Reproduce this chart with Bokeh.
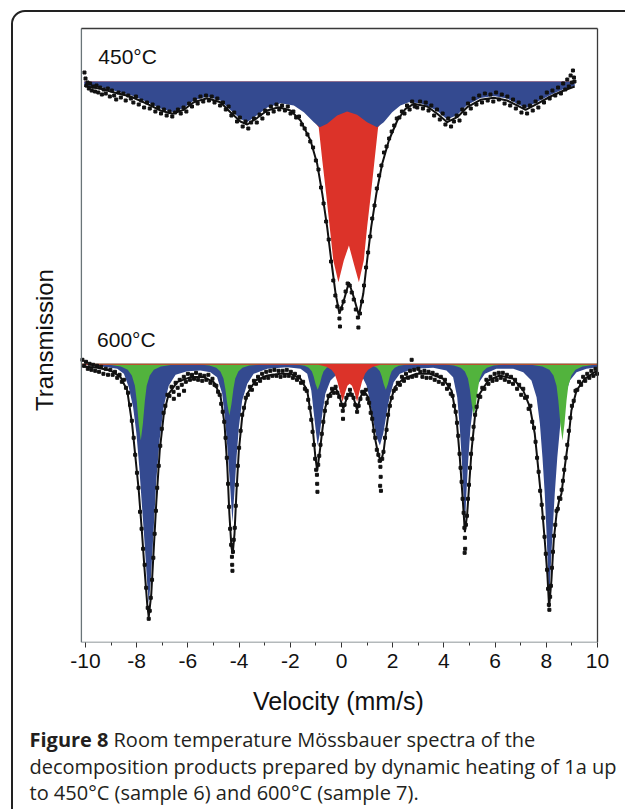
import math
from bokeh.plotting import figure
from bokeh.layouts import column
from bokeh.models import Range1d, FixedTicker, Label
from bokeh.embed import file_html
from bokeh.resources import INLINE

# ---------------- data (velocity mm/s, relative transmission %) ----------------
tick_values = [-10, -8, -6, -4, -2, 0, 2, 4, 6, 8, 10]
tick_labels = ["-10", "-8", "-6", "-4", "-2", "0", "2", "4", "6", "8", "10"]
minor_values = [-9, -7, -5, -3, -1, 1, 3, 5, 7, 9]
velocity_span = (-10.16, 10.0)

# 450 C spectrum (sample 6)
top_fit = [(-10.05, 99.55), (-9.41, 99.27), (-8.91, 98.93), (-8.24, 98.5), (-7.59, 97.77),
           (-7.07, 97.1), (-6.61, 96.77), (-6.16, 97.17), (-5.77, 97.93), (-5.25, 98.33),
           (-4.73, 97.93), (-4.34, 96.93), (-3.95, 96.0), (-3.68, 95.7), (-3.29, 96.37),
           (-2.90, 97.1), (-2.45, 97.43), (-1.99, 97.1), (-1.60, 96.1), (-1.21, 94.1),
           (-0.95, 91.77), (-0.75, 88.77), (-0.56, 85.43), (-0.40, 82.1), (-0.23, 78.77),
           (-0.08, 76.77), (0.09, 78.1), (0.29, 79.93), (0.48, 78.43), (0.68, 76.6),
           (0.85, 78.77), (1.00, 82.1), (1.16, 85.43), (1.36, 88.77), (1.59, 91.77),
           (1.85, 94.1), (2.18, 96.1), (2.50, 97.27), (2.82, 97.77), (3.35, 97.5),
           (3.74, 96.77), (4.13, 95.93), (4.52, 96.43), (4.91, 97.43), (5.43, 98.17),
           (5.95, 98.37), (6.47, 98.1), (6.99, 97.43), (7.19, 97.17), (7.64, 97.77),
           (8.16, 98.5), (8.68, 99.1), (9.11, 99.5)]
top_blue = [(-10.05, 99.6), (-9.41, 99.45), (-8.91, 99.1), (-8.24, 98.65), (-7.59, 97.95),
            (-7.07, 97.3), (-6.61, 96.95), (-6.16, 97.35), (-5.77, 98.1), (-5.25, 98.5),
            (-4.73, 98.1), (-4.34, 97.15), (-3.95, 96.25), (-3.68, 95.95), (-3.29, 96.65),
            (-2.90, 97.4), (-2.38, 97.83), (-1.86, 97.6), (-1.47, 96.93), (-1.08, 95.93),
            (-0.85, 95.43), (-0.56, 95.77), (-0.17, 96.6), (0.22, 97.0), (0.61, 96.67),
            (1.00, 95.93), (1.39, 95.43), (1.65, 95.93), (1.98, 96.93), (2.30, 97.6),
            (2.63, 97.93), (3.09, 97.83), (3.48, 97.4), (3.74, 97.05), (4.13, 96.2),
            (4.52, 96.65), (4.91, 97.65), (5.43, 98.35), (5.95, 98.55), (6.47, 98.3),
            (6.99, 97.6), (7.19, 97.35), (7.64, 97.95), (8.16, 98.65), (8.68, 99.25),
            (9.11, 99.55)]
top_red = [(-10.05, 99.9), (-5.0, 99.7), (-2.5, 99.0), (-1.8, 98.0), (-1.3, 96.8),
           (-0.89, 95.43), (-0.75, 92.1), (-0.60, 88.77), (-0.46, 85.43), (-0.32, 82.1),
           (-0.12, 79.93), (0.09, 82.1), (0.29, 83.6), (0.50, 81.6), (0.68, 79.93),
           (0.87, 82.1), (1.00, 85.43), (1.15, 88.77), (1.29, 92.1), (1.43, 95.43),
           (1.85, 96.8), (2.35, 98.0), (3.05, 99.0), (5.5, 99.7), (9.11, 99.9)]
top_data = [(-10.04, 100.9), (-10.0, 100.3), (-9.96, 99.6), (-9.92, 99.9), (-9.87, 99.3),
            (-9.82, 99.8), (-9.76, 99.1), (-9.70, 99.5), (-9.63, 99.0), (-9.57, 99.6),
            (-9.50, 98.9), (-9.43, 99.4), (-9.36, 98.7), (-9.29, 99.2), (-9.21, 98.8),
            (-9.13, 99.3), (-9.05, 98.5), (-8.97, 99.1), (-8.88, 98.6), (-8.80, 98.2),
            (-8.71, 98.9), (-8.62, 98.4), (-8.52, 98.8), (-8.43, 98.1), (-8.33, 98.6),
            (-8.23, 98.3), (-8.13, 97.9), (-8.03, 98.5), (-7.92, 97.7), (-7.82, 98.1),
            (-7.71, 97.4), (-7.60, 97.9), (-7.49, 97.3), (-7.38, 97.7), (-7.27, 97.0),
            (-7.16, 97.4), (-7.05, 96.8), (-6.94, 97.2), (-6.83, 96.6), (-6.72, 97.0),
            (-6.61, 96.5), (-6.50, 96.9), (-6.39, 97.2), (-6.28, 96.8), (-6.17, 97.4),
            (-6.06, 97.0), (-5.95, 97.8), (-5.84, 97.5), (-5.73, 98.2), (-5.62, 97.8),
            (-5.51, 98.5), (-5.40, 98.0), (-5.29, 98.6), (-5.18, 98.1), (-5.07, 98.5),
            (-4.96, 97.9), (-4.85, 98.3), (-4.74, 97.6), (-4.63, 97.9), (-4.52, 97.2),
            (-4.41, 97.5), (-4.30, 96.6), (-4.19, 96.9), (-4.08, 96.0), (-3.97, 96.4),
            (-3.86, 95.5), (-3.75, 96.0), (-3.64, 95.3), (-3.53, 95.9), (-3.42, 96.3),
            (-3.31, 95.9), (-3.20, 96.7), (-3.09, 96.3), (-2.98, 97.1), (-2.87, 96.8),
            (-2.76, 97.5), (-2.65, 97.0), (-2.54, 97.7), (-2.43, 97.2), (-2.32, 97.6),
            (-2.21, 97.1), (-2.10, 97.5), (-1.99, 96.8), (-1.88, 97.0), (-1.77, 96.4),
            (-1.66, 96.5), (-1.55, 95.7), (-1.44, 95.3), (-1.33, 94.7), (-1.22, 94.0),
            (-1.11, 93.4), (-1.00, 92.1), (-0.90, 91.2), (-0.80, 89.4), (-0.70, 87.8),
            (-0.60, 86.0), (-0.50, 84.2), (-0.41, 82.0), (-0.32, 80.1), (-0.24, 78.6),
            (-0.16, 77.5), (-0.08, 76.3), (-0.06, 75.5), (0.00, 77.3), (0.08, 78.0),
            (0.16, 79.0), (0.24, 79.8), (0.32, 79.6), (0.40, 78.9), (0.48, 78.2),
            (0.56, 77.2), (0.64, 76.4), (0.66, 75.4), (0.72, 76.8), (0.80, 78.0),
            (0.88, 79.6), (0.96, 81.4), (1.04, 82.9), (1.12, 84.5), (1.20, 86.3),
            (1.29, 87.6), (1.38, 89.3), (1.47, 90.6), (1.56, 91.6), (1.66, 92.9),
            (1.76, 93.5), (1.86, 94.3), (1.96, 95.0), (2.06, 95.6), (2.16, 96.3),
            (2.26, 96.4), (2.36, 97.0), (2.46, 96.8), (2.56, 97.6), (2.66, 97.2),
            (2.76, 98.0), (2.86, 97.5), (2.96, 97.4), (3.07, 98.0), (3.18, 97.3),
            (3.29, 97.9), (3.40, 97.1), (3.51, 97.6), (3.62, 96.6), (3.73, 97.2),
            (3.84, 96.2), (3.95, 96.8), (4.06, 95.7), (4.17, 96.3), (4.28, 95.5),
            (4.39, 96.0), (4.50, 96.6), (4.61, 96.1), (4.72, 97.2), (4.83, 96.8),
            (4.94, 97.8), (5.05, 97.3), (5.16, 98.3), (5.27, 97.7), (5.38, 98.6),
            (5.49, 97.9), (5.60, 98.8), (5.71, 98.1), (5.82, 98.7), (5.93, 98.0),
            (6.04, 98.9), (6.15, 98.2), (6.26, 98.7), (6.37, 97.8), (6.48, 98.5),
            (6.59, 97.6), (6.70, 98.2), (6.81, 97.3), (6.92, 97.9), (7.03, 96.9),
            (7.14, 97.5), (7.25, 96.8), (7.36, 97.6), (7.47, 97.1), (7.58, 98.0),
            (7.69, 97.4), (7.80, 98.4), (7.91, 97.9), (8.02, 98.9), (8.13, 98.3),
            (8.24, 99.1), (8.35, 98.6), (8.46, 99.4), (8.57, 98.8), (8.66, 99.8),
            (8.74, 99.2), (8.82, 100.2), (8.88, 99.5), (8.95, 100.6), (9.00, 99.9),
            (9.04, 101.1), (9.08, 100.4), (9.10, 100.0)]

# 600 C spectrum (sample 7)
bot_fit = [(-10.16, 99.75), (-9.54, 99.6), (-9.02, 99.33), (-8.63, 98.67), (-8.37, 97.33),
           (-8.18, 94.0), (-8.05, 90.67), (-7.92, 87.33), (-7.79, 83.0), (-7.70, 79.67),
           (-7.59, 76.0), (-7.53, 74.67), (-7.43, 77.0), (-7.33, 81.67), (-7.23, 86.33),
           (-7.10, 91.33), (-6.94, 95.0), (-6.75, 97.0), (-6.42, 98.17), (-5.90, 98.67),
           (-5.38, 98.67), (-4.99, 98.17), (-4.73, 96.83), (-4.57, 94.0), (-4.46, 89.67),
           (-4.38, 85.0), (-4.30, 81.67), (-4.25, 81.0), (-4.18, 83.0), (-4.10, 87.33),
           (-4.01, 91.33), (-3.88, 94.67), (-3.68, 97.0), (-3.36, 98.33), (-2.90, 98.83),
           (-2.38, 99.0), (-1.99, 99.0), (-1.60, 98.5), (-1.34, 97.33), (-1.14, 94.0),
           (-1.02, 90.67), (-0.95, 89.33), (-0.86, 91.0), (-0.75, 93.33), (-0.63, 95.67),
           (-0.46, 97.0), (-0.23, 97.6), (-0.09, 96.83), (0.07, 95.5), (0.22, 96.66),
           (0.35, 97.16), (0.48, 96.5), (0.61, 95.4), (0.74, 96.66), (0.87, 97.33),
           (1.04, 96.67), (1.17, 95.0), (1.30, 92.67), (1.43, 91.0), (1.54, 90.17),
           (1.65, 91.33), (1.76, 93.67), (1.89, 96.0), (2.08, 97.67), (2.41, 98.5),
           (2.93, 99.0), (3.45, 99.0), (3.97, 98.5), (4.30, 97.33), (4.49, 94.67),
           (4.62, 90.67), (4.73, 86.67), (4.82, 83.17), (4.91, 85.0), (4.99, 88.0),
           (5.08, 91.33), (5.21, 94.67), (5.40, 97.0), (5.73, 98.33), (6.18, 98.83),
           (6.71, 98.5), (7.10, 97.33), (7.36, 95.67), (7.55, 93.0), (7.68, 89.67),
           (7.81, 86.33), (7.94, 82.33), (8.04, 79.0), (8.11, 75.67), (8.20, 78.33),
           (8.29, 82.33), (8.40, 85.0), (8.50, 86.33), (8.59, 87.0), (8.72, 89.67),
           (8.86, 92.33), (8.98, 95.33), (9.18, 97.33), (9.50, 98.5), (9.89, 99.17),
           (10.0, 99.3)]
bot_blue = [(-10.16, 99.93), (-9.68, 99.83), (-9.15, 99.66), (-8.76, 99.5), (-8.50, 99.0),
            (-8.31, 97.66), (-8.14, 95.66), (-8.01, 93.0), (-7.90, 89.66), (-7.79, 85.66),
            (-7.68, 81.66), (-7.59, 78.0), (-7.53, 76.0), (-7.46, 78.0), (-7.39, 81.0),
            (-7.32, 84.33), (-7.23, 88.5), (-7.10, 92.5), (-6.94, 95.8), (-6.75, 97.8),
            (-6.48, 98.9), (-6.03, 99.26), (-5.51, 99.33), (-5.12, 99.16), (-4.86, 98.66),
            (-4.66, 97.0), (-4.53, 94.0), (-4.43, 90.66), (-4.34, 87.33), (-4.26, 84.16),
            (-4.18, 87.33), (-4.10, 90.66), (-4.01, 93.66), (-3.88, 96.33), (-3.68, 98.0),
            (-3.43, 99.0), (-2.90, 99.5), (-2.12, 99.66), (-1.60, 99.5), (-1.34, 99.0),
            (-1.18, 97.33), (-1.08, 95.0), (-0.99, 93.0), (-0.93, 91.83), (-0.85, 93.0),
            (-0.75, 95.0), (-0.63, 97.0), (-0.43, 98.33), (-0.23, 98.83), (0.31, 99.1),
            (0.85, 98.5), (0.98, 97.83), (1.11, 96.33), (1.24, 94.33), (1.37, 92.66),
            (1.50, 91.83), (1.63, 93.0), (1.76, 95.0), (1.89, 96.83), (2.04, 98.16),
            (2.28, 99.0), (2.80, 99.5), (3.58, 99.6), (4.10, 99.33), (4.36, 98.66),
            (4.52, 96.66), (4.62, 93.66), (4.70, 90.33), (4.77, 86.66), (4.82, 83.6),
            (4.87, 86.66), (4.95, 90.33), (5.04, 93.66), (5.17, 96.33), (5.34, 98.0),
            (5.60, 99.0), (6.05, 99.5), (6.71, 99.5), (7.10, 99.16), (7.42, 98.33),
            (7.62, 96.66), (7.75, 94.0), (7.85, 90.66), (7.94, 87.0), (8.01, 83.0),
            (8.07, 79.0), (8.11, 76.0), (8.16, 79.0), (8.24, 83.0), (8.33, 87.0),
            (8.43, 90.66), (8.55, 94.0), (8.72, 96.66), (8.92, 98.33), (9.18, 99.16),
            (9.57, 99.5), (10.0, 99.66)]
bot_green = [(-10.16, 99.97), (-9.01, 99.88), (-8.62, 99.74), (-8.35, 99.4), (-8.19, 98.84),
             (-8.07, 97.81), (-8.00, 96.34), (-7.92, 93.99), (-7.84, 92.33), (-7.76, 93.99),
             (-7.68, 96.34), (-7.61, 97.81), (-7.49, 98.84), (-7.33, 99.4), (-7.06, 99.74),
             (-6.67, 99.88), (-5.55, 99.92), (-5.16, 99.82), (-4.89, 99.6), (-4.73, 99.22),
             (-4.61, 98.52), (-4.54, 97.53), (-4.46, 95.95), (-4.38, 94.83), (-4.30, 95.95),
             (-4.22, 97.53), (-4.15, 98.52), (-4.03, 99.22), (-3.87, 99.6), (-3.60, 99.82),
             (-3.21, 99.92), (-2.10, 99.96), (-1.71, 99.91), (-1.44, 99.8), (-1.28, 99.61),
             (-1.16, 99.26), (-1.09, 98.76), (-1.01, 97.96), (-0.93, 97.4), (-0.85, 97.96),
             (-0.77, 98.76), (-0.70, 99.26), (-0.58, 99.61), (-0.42, 99.8), (-0.15, 99.91),
             (0.24, 99.96), (0.56, 99.96), (0.95, 99.91), (1.22, 99.8), (1.38, 99.61),
             (1.50, 99.26), (1.57, 98.76), (1.65, 97.96), (1.73, 97.4), (1.81, 97.96),
             (1.89, 98.76), (1.96, 99.26), (2.08, 99.61), (2.24, 99.8), (2.51, 99.91),
             (2.90, 99.96), (4.00, 99.92), (4.39, 99.82), (4.66, 99.6), (4.82, 99.22),
             (4.94, 98.52), (5.01, 97.53), (5.09, 95.95), (5.17, 94.83), (5.25, 95.95),
             (5.33, 97.53), (5.40, 98.52), (5.52, 99.22), (5.68, 99.6), (5.95, 99.82),
             (6.34, 99.92), (7.46, 99.88), (7.85, 99.74), (8.12, 99.4), (8.28, 98.84),
             (8.40, 97.81), (8.47, 96.34), (8.55, 93.99), (8.63, 92.33), (8.71, 93.99),
             (8.79, 96.34), (8.86, 97.81), (8.98, 98.84), (9.14, 99.4), (9.41, 99.74),
             (9.80, 99.88), (10.0, 99.9)]
bot_red = [(-10.16, 99.9), (-0.90, 99.9), (-0.59, 99.7), (-0.39, 99.4), (-0.27, 99.0),
           (-0.16, 98.2), (-0.06, 97.2), (0.04, 96.2), (0.14, 97.1), (0.23, 97.8),
           (0.32, 98.0), (0.41, 97.8), (0.51, 97.1), (0.61, 96.2), (0.70, 97.2),
           (0.80, 98.2), (0.92, 99.0), (1.04, 99.4), (1.23, 99.7), (1.52, 99.9),
           (10.0, 99.9)]
bot_data = [(-10.12, 100.4), (-10.05, 99.8), (-9.98, 100.2), (-9.91, 99.5), (-9.84, 100.0),
            (-9.77, 99.4), (-9.70, 99.9), (-9.62, 99.3), (-9.55, 99.8), (-9.47, 99.2),
            (-9.39, 99.7), (-9.30, 99.0), (-9.21, 99.5), (-9.12, 98.9), (-9.03, 99.4),
            (-8.94, 98.9), (-8.85, 99.2), (-8.76, 98.6), (-8.67, 98.9), (-8.58, 98.2),
            (-8.50, 98.4), (-8.42, 97.6), (-8.34, 97.1), (-8.26, 95.9), (-8.19, 94.3),
            (-8.12, 92.6), (-8.06, 90.9), (-7.99, 89.1), (-7.93, 87.6), (-7.87, 85.2),
            (-7.81, 83.5), (-7.75, 81.5), (-7.69, 79.9), (-7.63, 77.6), (-7.57, 75.6),
            (-7.53, 74.5), (-7.49, 75.3), (-7.45, 76.6), (-7.40, 78.4), (-7.35, 80.6),
            (-7.30, 83.0), (-7.25, 85.3), (-7.20, 87.6), (-7.14, 89.8), (-7.08, 91.8),
            (-7.02, 93.5), (-6.95, 95.1), (-6.88, 95.8), (-6.80, 96.9), (-6.72, 96.8),
            (-6.64, 97.7), (-6.56, 97.2), (-6.55, 96.5), (-6.48, 98.1), (-6.40, 97.6),
            (-6.35, 96.9), (-6.32, 98.4), (-6.24, 97.9), (-6.16, 98.7), (-6.15, 97.3),
            (-6.08, 98.2), (-6.00, 99.0), (-5.92, 98.4), (-5.84, 98.9), (-5.76, 98.5),
            (-5.68, 99.1), (-5.60, 98.4), (-5.52, 98.9), (-5.44, 98.3), (-5.36, 98.8),
            (-5.28, 98.4), (-5.20, 98.9), (-5.12, 98.1), (-5.04, 98.5), (-4.96, 97.9),
            (-4.89, 97.8), (-4.82, 97.2), (-4.76, 96.9), (-4.70, 96.0), (-4.64, 95.2),
            (-4.58, 94.2), (-4.53, 92.6), (-4.48, 90.6), (-4.43, 88.0), (-4.39, 85.7),
            (-4.35, 83.5), (-4.31, 81.9), (-4.28, 80.7), (-4.27, 79.9), (-4.26, 79.3),
            (-4.24, 81.2), (-4.21, 82.4), (-4.17, 83.6), (-4.13, 85.8), (-4.09, 87.9),
            (-4.05, 89.8), (-4.00, 91.6), (-3.94, 93.3), (-3.88, 94.9), (-3.81, 95.6),
            (-3.74, 96.6), (-3.66, 96.9), (-3.58, 97.7), (-3.50, 97.4), (-3.42, 98.3),
            (-3.34, 98.0), (-3.26, 98.7), (-3.18, 98.3), (-3.10, 99.0), (-3.02, 98.6),
            (-2.94, 99.2), (-2.86, 98.6), (-2.78, 99.3), (-2.70, 98.8), (-2.62, 99.4),
            (-2.54, 98.8), (-2.46, 99.3), (-2.38, 98.7), (-2.30, 99.3), (-2.22, 98.8),
            (-2.14, 99.4), (-2.06, 98.8), (-1.98, 99.2), (-1.90, 98.6), (-1.82, 99.0),
            (-1.74, 98.4), (-1.66, 98.7), (-1.58, 98.1), (-1.50, 98.2), (-1.43, 97.5),
            (-1.36, 97.3), (-1.30, 96.4), (-1.24, 95.6), (-1.18, 94.4), (-1.13, 93.2),
            (-1.08, 91.9), (-1.03, 90.5), (-0.99, 89.4), (-0.96, 88.9), (-0.95, 88.0),
            (-0.94, 87.2), (-0.91, 89.9), (-0.87, 90.8), (-0.82, 91.9), (-0.77, 93.0),
            (-0.71, 94.2), (-0.65, 95.3), (-0.58, 96.1), (-0.51, 96.8), (-0.44, 96.8),
            (-0.37, 97.5), (-0.30, 97.1), (-0.23, 97.7), (-0.16, 97.1), (-0.09, 96.7),
            (-0.02, 95.9), (0.05, 95.3), (0.06, 94.5), (0.12, 95.9), (0.19, 96.6),
            (0.26, 96.9), (0.33, 97.4), (0.40, 96.9), (0.47, 96.6), (0.54, 95.9),
            (0.61, 95.2), (0.67, 95.8), (0.74, 96.5), (0.81, 97.2), (0.88, 97.0),
            (0.95, 97.4), (1.02, 96.5), (1.08, 96.1), (1.14, 95.1), (1.20, 94.5),
            (1.26, 93.3), (1.32, 92.6), (1.38, 91.4), (1.44, 90.9), (1.49, 90.3),
            (1.52, 89.7), (1.53, 88.7), (1.51, 87.8), (1.54, 87.3), (1.59, 90.5),
            (1.64, 91.2), (1.70, 92.6), (1.76, 93.4), (1.82, 94.9), (1.89, 95.8),
            (1.96, 96.6), (2.04, 97.3), (2.12, 97.5), (2.20, 98.1), (2.28, 97.9),
            (2.36, 98.7), (2.44, 98.3), (2.52, 99.0), (2.60, 98.6), (2.68, 99.3),
            (2.74, 100.4), (2.76, 98.7), (2.84, 99.4), (2.92, 98.8), (3.00, 99.5),
            (3.08, 99.2), (3.16, 98.7), (3.24, 99.3), (3.32, 98.6), (3.40, 99.2),
            (3.48, 98.6), (3.56, 99.1), (3.64, 98.4), (3.72, 98.9), (3.80, 98.2),
            (3.88, 98.7), (3.96, 98.0), (4.04, 98.4), (4.12, 97.5), (4.20, 97.9),
            (4.27, 97.0), (4.34, 96.8), (4.40, 95.8), (4.46, 95.2), (4.51, 94.1),
            (4.56, 92.8), (4.61, 91.0), (4.65, 89.6), (4.69, 88.2), (4.73, 86.5),
            (4.77, 85.1), (4.80, 83.6), (4.82, 82.6), (4.83, 81.5), (4.81, 81.1),
            (4.86, 83.9), (4.90, 84.8), (4.94, 86.5), (4.98, 87.9), (5.02, 89.6),
            (5.06, 91.0), (5.11, 92.5), (5.16, 93.7), (5.22, 94.9), (5.28, 95.7),
            (5.35, 96.8), (5.42, 96.7), (5.50, 97.6), (5.58, 97.5), (5.66, 98.4),
            (5.74, 98.0), (5.82, 98.7), (5.90, 98.3), (5.98, 99.0), (6.06, 98.4),
            (6.14, 99.1), (6.22, 98.6), (6.30, 99.1), (6.38, 98.4), (6.46, 98.9),
            (6.54, 98.2), (6.62, 98.7), (6.70, 98.0), (6.78, 98.4), (6.86, 97.5),
            (6.94, 97.9), (7.02, 96.9), (7.10, 97.5), (7.17, 96.6), (7.24, 96.7),
            (7.31, 95.5), (7.38, 95.8), (7.45, 94.2), (7.52, 93.6), (7.58, 92.2),
            (7.64, 90.6), (7.70, 89.2), (7.76, 87.3), (7.82, 85.9), (7.88, 84.6),
            (7.93, 82.7), (7.98, 81.0), (8.03, 79.4), (8.07, 77.5), (8.10, 75.9),
            (8.12, 75.4), (8.15, 76.7), (8.18, 77.8), (8.22, 79.6), (8.26, 81.2),
            (8.30, 82.8), (8.35, 83.9), (8.40, 85.3), (8.45, 85.5), (8.50, 86.6),
            (8.55, 86.5), (8.60, 87.4), (8.65, 88.3), (8.70, 89.4), (8.76, 90.6),
            (8.82, 91.9), (8.88, 93.3), (8.94, 94.6), (9.00, 95.8), (9.07, 96.3),
            (9.14, 97.3), (9.21, 97.4), (9.28, 98.2), (9.36, 97.9), (9.44, 98.7),
            (9.52, 98.3), (9.60, 99.0), (9.68, 98.6), (9.76, 99.3), (9.84, 98.8),
            (9.92, 99.5), (9.98, 99.0)]

baseline = 100.0
labels_temp = ["450°C", "600°C"]
y_title = "Transmission"
x_title = "Velocity (mm/s)"
caption_bold = "Figure 8"
caption_lines = ["Room temperature Mössbauer spectra of the",
                 "decomposition products prepared by dynamic heating of 1a up",
                 "to 450°C (sample 6) and 600°C (sample 7)."]

# ---------------- styles / geometry ----------------
BLUE = "#344a90"
RED = "#dc3329"
GREEN = "#52b33d"
INK = "#111111"
W, H = 625, 809
H_MAIN = 684          # main figure: frame 0..642 px, x-axis panel below
PX_PER_V = 25.6       # px per mm/s
X0_PX = 341           # px of v = 0
TOP_BASE_PX = 81      # px of the 450 C baseline
BOT_BASE_PX = 363.3   # px of the 600 C baseline
FRAME_H = 642


def xs(pts):
    return [a for a, b in pts]


def ys(pts):
    return [b for a, b in pts]


x_rng = Range1d(-X0_PX / PX_PER_V, (W - X0_PX) / PX_PER_V)
top_rng = Range1d(100 - (FRAME_H - TOP_BASE_PX) / 10, 100 + TOP_BASE_PX / 10)
bot_rng = Range1d(100 - (FRAME_H - BOT_BASE_PX) / 10, 100 + BOT_BASE_PX / 10)

p = figure(width=W, height=H_MAIN, output_backend="svg", toolbar_location=None,
           x_range=x_rng, y_range=top_rng, y_axis_location=None,
           min_border_left=0, min_border_right=0, min_border_top=0,
           min_border_bottom=H_MAIN - FRAME_H)
p.extra_y_ranges = {"bottom": bot_rng}
p.grid.visible = False
p.background_fill_color = "white"
p.border_fill_color = "white"
p.outline_line_color = None

xa = p.xaxis[0]
xa.ticker = FixedTicker(ticks=tick_values, minor_ticks=minor_values)
xa.major_label_overrides = {v: s for v, s in zip(tick_values, tick_labels)}
xa.axis_line_color = None
xa.major_tick_line_color = "#333333"
xa.minor_tick_line_color = "#333333"
xa.major_tick_in = 0
xa.major_tick_out = 5
xa.minor_tick_in = 0
xa.minor_tick_out = 3
xa.major_label_text_font = "Liberation Sans"
xa.major_label_text_font_size = "21px"
xa.major_label_text_color = INK
xa.major_label_standoff = 6

# 450 C
p.varea(x=xs(top_red), y1=baseline, y2=ys(top_red), fill_color=RED)
p.varea(x=xs(top_blue), y1=baseline, y2=ys(top_blue), fill_color=BLUE)
p.line(xs(top_fit), ys(top_fit), line_color=INK, line_width=2)
p.scatter(xs(top_data), ys(top_data), marker="square", size=3, color=INK)

# 600 C
p.varea(x=xs(bot_blue), y1=baseline, y2=ys(bot_blue), fill_color=BLUE, y_range_name="bottom")
p.varea(x=xs(bot_green), y1=baseline, y2=ys(bot_green), fill_color=GREEN, y_range_name="bottom")
p.varea(x=xs(bot_red), y1=baseline, y2=ys(bot_red), fill_color=RED, y_range_name="bottom")
p.line(xs(bot_fit), ys(bot_fit), line_color=INK, line_width=2, y_range_name="bottom")
p.scatter(xs(bot_data), ys(bot_data), marker="square", size=3, color=INK, y_range_name="bottom")

# plot box (data coordinates: velocity span x whole transmission window)
box_top = 100 + (TOP_BASE_PX - 28) / 10
box_bottom = top_rng.start
p.segment(x0=[velocity_span[0], velocity_span[0], velocity_span[1], velocity_span[0]],
          y0=[box_bottom, box_top, box_top, box_bottom],
          x1=[velocity_span[0], velocity_span[1], velocity_span[1], velocity_span[1]],
          y1=[box_top, box_top, box_bottom, box_bottom],
          line_color=["#6a7478", "#3a3a3a", "#3a3a3a", "#6a7478"], line_width=1.3)

# in-plot texts (alphabetic baseline renders ~8 px low in svg -> positions set accordingly)
p.add_layout(Label(x=-9.50, y=102.5, text=labels_temp[0], text_font="Liberation Sans",
                   text_font_size="21px", text_color=INK, text_baseline="alphabetic"))
p.add_layout(Label(x=-9.55, y=102.48, y_range_name="bottom", text=labels_temp[1],
                   text_font="Liberation Sans", text_font_size="21px", text_color=INK,
                   text_baseline="alphabetic"))
p.add_layout(Label(x=(44 - X0_PX) / PX_PER_V, y=100 + (TOP_BASE_PX - 339.5) / 10,
                   text=y_title, angle=math.pi / 2, text_align="center",
                   text_baseline="alphabetic", text_font="Liberation Sans",
                   text_font_size="24px", text_color=INK))

# ---------------- caption strip (its frame fills the whole strip) ----------------
H_CAP = H - H_MAIN
cap = figure(width=W, height=H_CAP, output_backend="svg", toolbar_location=None,
             x_axis_location=None, y_axis_location=None, min_border=0,
             x_range=Range1d(0, W), y_range=Range1d(0, H_CAP))
cap.grid.visible = False
cap.outline_line_color = None
cap.background_fill_color = "white"
cap.border_fill_color = "white"

cap.add_layout(Label(x=338, y=H - 700, x_units="screen", y_units="screen", text=x_title,
                     text_align="center", text_baseline="alphabetic",
                     text_font="Liberation Sans", text_font_size="25px", text_color=INK))

cap_font = "Open Sans"
cap_size = "20px"
cap_color = "#231f20"
cap_left = 29
bold_width = 84
baselines = [739, 765.5, 792]
cap.add_layout(Label(x=cap_left, y=H - baselines[0], x_units="screen", y_units="screen",
                     text=caption_bold, text_font=cap_font, text_font_size=cap_size,
                     text_font_style="bold", text_color=cap_color, text_baseline="alphabetic"))
cap.add_layout(Label(x=cap_left + bold_width, y=H - baselines[0], x_units="screen",
                     y_units="screen", text=caption_lines[0], text_font=cap_font,
                     text_font_size=cap_size, text_color=cap_color, text_baseline="alphabetic"))
cap.add_layout(Label(x=cap_left, y=H - baselines[1], x_units="screen", y_units="screen",
                     text=caption_lines[1], text_font=cap_font, text_font_size=cap_size,
                     text_color=cap_color, text_baseline="alphabetic"))
cap.add_layout(Label(x=cap_left, y=H - baselines[2], x_units="screen", y_units="screen",
                     text=caption_lines[2], text_font=cap_font, text_font_size=cap_size,
                     text_color=cap_color, text_baseline="alphabetic"))

# rounded outer box of the figure panel (CSS, clipped at the page edge)
box_css = (":host { position: relative; overflow: hidden; }"
           ":host::after { content: ''; position: absolute; left: 11px; top: 10px;"
           " width: 900px; height: 1100px; border: 2px solid #222222;"
           " border-radius: 14px; pointer-events: none; z-index: 10; }")
layout = column(p, cap, spacing=0, stylesheets=[box_css])

open("out.html", "w").write(file_html(layout, INLINE))
